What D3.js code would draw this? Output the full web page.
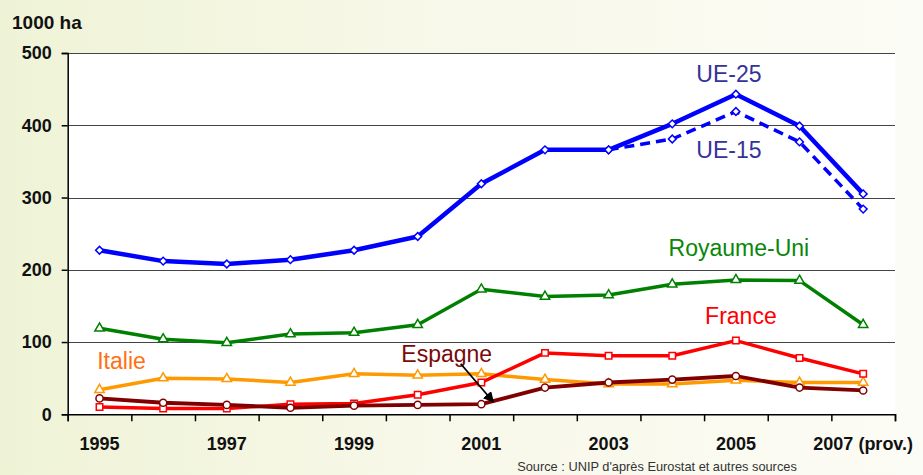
<!DOCTYPE html>
<html lang="fr">
<head>
  <meta charset="UTF-8">
  <title>Surfaces en pois protéagineux</title>
  <style>
    html,
    body {
      margin: 0;
      width: 923px;
      height: 475px;
      overflow: hidden;
    }

    body {
      background: linear-gradient(90deg, #eff3d6 0%, #f7f8e8 45%, #fcfcf6 100%);
    }

    svg {
      display: block;
      font-family: "Liberation Sans", Arial, sans-serif;
    }

    .axis text {
      font-weight: bold;
      font-size: 18px;
      fill: #111;
    }
  </style>
</head>

<body>
  <div id="chart"></div>

  <script src="https://cdn.jsdelivr.net/npm/d3@7"></script>
  <script>
    const years = [1995, 1996, 1997, 1998, 1999, 2000, 2001, 2002, 2003, 2004, 2005, 2006, 2007]
    const yearLabels = ['1995', '', '1997', '', '1999', '', '2001', '', '2003', '', '2005', '', '2007 (prov.)']
    const yTicks = [0, 100, 200, 300, 400, 500]

    const ue25 = [227, 212, 208, 214, 227, 246, 319, 366, 366, 402, 443, 399, 305]
    const ue15 = [null, null, null, null, null, null, null, null, 366, 381, 419, 377, 284]
    const royaumeUni = [119, 104, 99, 111, 113, 124, 173, 163, 165, 180, 186, 185, 124]
    const france = [10, 8, 8, 14, 15, 27, 44, 85, 81, 81, 102, 78, 56]
    const italie = [34, 50, 49, 44, 56, 54, 56, 48, 42, 42, 47, 44, 44]
    const espagne = [22, 16, 13, 9, 12, 13, 14, 37, 44, 48, 53, 37, 33]

    const width = 923
    const height = 475
    const plot = { left: 67.7, right: 895, top: 53, bottom: 414.3 }

    const series = [
      { name: 'Italie', values: italie, color: '#ff9900', symbol: d3.symbolTriangle, size: 38, lw: 3.5 },
      { name: 'France', values: france, color: '#ff0000', symbol: d3.symbolSquare, size: 42, lw: 3.5 },
      { name: 'Espagne', values: espagne, color: '#800000', symbol: d3.symbolCircle, size: 40, lw: 3.8 },
      { name: 'Royaume-Uni', values: royaumeUni, color: '#008000', symbol: d3.symbolTriangle, size: 38, lw: 3.5 },
      { name: 'UE-15', values: ue15, color: '#0000ff', symbol: d3.symbolSquare, size: 30, rot: 45, lw: 3.5, dash: '10,6' },
      { name: 'UE-25', values: ue25, color: '#0000ff', symbol: d3.symbolSquare, size: 30, rot: 45, lw: 4.5 }
    ]

    // étiquettes posées dans l'espace des données (année, valeur, décalage en px)
    const labels = [
      { text: 'UE-25', year: 2005, value: 460, dx: -7, color: '#333399' },
      { text: 'UE-15', year: 2005, value: 354, dx: -7, color: '#333399' },
      { text: 'Royaume-Uni', year: 2005, value: 219, dx: 3, color: '#0a870a' },
      { text: 'France', year: 2005, value: 125, dx: 5, color: '#ff0000' },
      { text: 'Italie', year: 1995, value: 63, dx: 22, color: '#ff7015' },
      { text: 'Espagne', year: 2000, value: 73, dx: 29, color: '#7a0a0a' }
    ]

    const x = d3.scaleBand()
      .domain(years)
      .range([plot.left, plot.right])

    const xEdge = d3.scaleLinear()
      .domain([0, years.length])
      .range([plot.left, plot.right])

    const y = d3.scaleLinear()
      .domain([0, 500])
      .range([plot.bottom, plot.top])

    const cx = d => x(d) + x.bandwidth() / 2

    const svg = d3.select('#chart').append('svg')
      .attr('width', width)
      .attr('height', height)

    svg.append('rect')
      .attr('x', plot.left)
      .attr('y', plot.top)
      .attr('width', plot.right - plot.left)
      .attr('height', plot.bottom - plot.top)
      .attr('fill', '#fff')

    // grille horizontale
    svg.append('g')
      .selectAll('line')
      .data(yTicks.filter(d => d > 0))
      .join('line')
      .attr('x1', plot.left)
      .attr('x2', plot.right)
      .attr('y1', d => Math.round(y(d)) + 0.5)
      .attr('y2', d => Math.round(y(d)) + 0.5)
      .attr('stroke', '#444')
      .attr('stroke-width', 1)

    // axe Y
    const yAxis = svg.append('g')
      .attr('class', 'axis')
      .attr('transform', `translate(${plot.left},0)`)
      .call(d3.axisLeft(y).tickValues(yTicks).tickSize(6).tickPadding(10))
    yAxis.select('.domain').attr('stroke', '#000').attr('stroke-width', 1.5)
    yAxis.selectAll('.tick line').attr('stroke', '#000').attr('stroke-width', 1.5)

    // axe X : graduations entre les années
    const xTicks = svg.append('g')
      .attr('class', 'axis')
      .attr('transform', `translate(0,${plot.bottom})`)
      .call(d3.axisBottom(xEdge).tickValues(d3.range(0, years.length + 1)).tickSize(7).tickFormat(''))
    xTicks.select('.domain').attr('stroke', '#000').attr('stroke-width', 1.5)
    xTicks.selectAll('.tick line').attr('stroke', '#000').attr('stroke-width', 1.5)

    svg.append('g')
      .attr('class', 'axis')
      .attr('transform', `translate(0,${plot.bottom})`)
      .call(d3.axisBottom(x).tickSize(0).tickPadding(23).tickFormat((d, i) => yearLabels[i]))
      .call(g => g.select('.domain').remove())

    svg.append('text')
      .attr('x', 12)
      .attr('y', 29)
      .attr('font-weight', 'bold')
      .attr('font-size', 19)
      .attr('fill', '#111')
      .text('1000 ha')

    const line = d3.line()
      .defined(d => d.v != null)
      .x(d => cx(d.year))
      .y(d => y(d.v))

    series.forEach(s => {
      const pts = years.map((year, i) => ({ year, v: s.values[i] }))
      const g = svg.append('g')

      g.append('path')
        .datum(pts)
        .attr('d', line)
        .attr('fill', 'none')
        .attr('stroke', s.color)
        .attr('stroke-width', s.lw)
        .attr('stroke-dasharray', s.dash || null)
        .attr('stroke-linejoin', 'round')

      g.selectAll('path.mark')
        .data(pts.filter(d => d.v != null))
        .join('path')
        .attr('class', 'mark')
        .attr('transform', d => `translate(${cx(d.year)},${y(d.v)}) rotate(${s.rot || 0})`)
        .attr('d', d3.symbol().type(s.symbol).size(s.size))
        .attr('fill', '#fff')
        .attr('stroke', s.color)
        .attr('stroke-width', 1.5)
    })

    svg.append('g')
      .selectAll('text')
      .data(labels)
      .join('text')
      .attr('x', d => cx(d.year) + d.dx)
      .attr('y', d => y(d.value))
      .attr('text-anchor', 'middle')
      .attr('font-size', 23)
      .attr('fill', d => d.color)
      .text(d => d.text)

    // flèche vers la courbe de l'Espagne
    svg.append('defs').append('marker')
      .attr('id', 'arrow')
      .attr('viewBox', '0 0 10 10')
      .attr('refX', 9)
      .attr('refY', 5)
      .attr('markerWidth', 6)
      .attr('markerHeight', 6)
      .attr('orient', 'auto')
      .append('path')
      .attr('d', 'M0,0L10,5L0,10z')
      .attr('fill', '#000')

    svg.append('line')
      .attr('x1', cx(2000) + 43)
      .attr('y1', y(70))
      .attr('x2', cx(2001) + 12)
      .attr('y2', y(17))
      .attr('stroke', '#000')
      .attr('stroke-width', 1.8)
      .attr('marker-end', 'url(#arrow)')

    svg.append('text')
      .attr('x', 657)
      .attr('y', 471)
      .attr('text-anchor', 'middle')
      .attr('font-size', 12.8)
      .attr('fill', '#333')
      .text("Source : UNIP d'après Eurostat et autres sources")
  </script>
</body>

</html>
